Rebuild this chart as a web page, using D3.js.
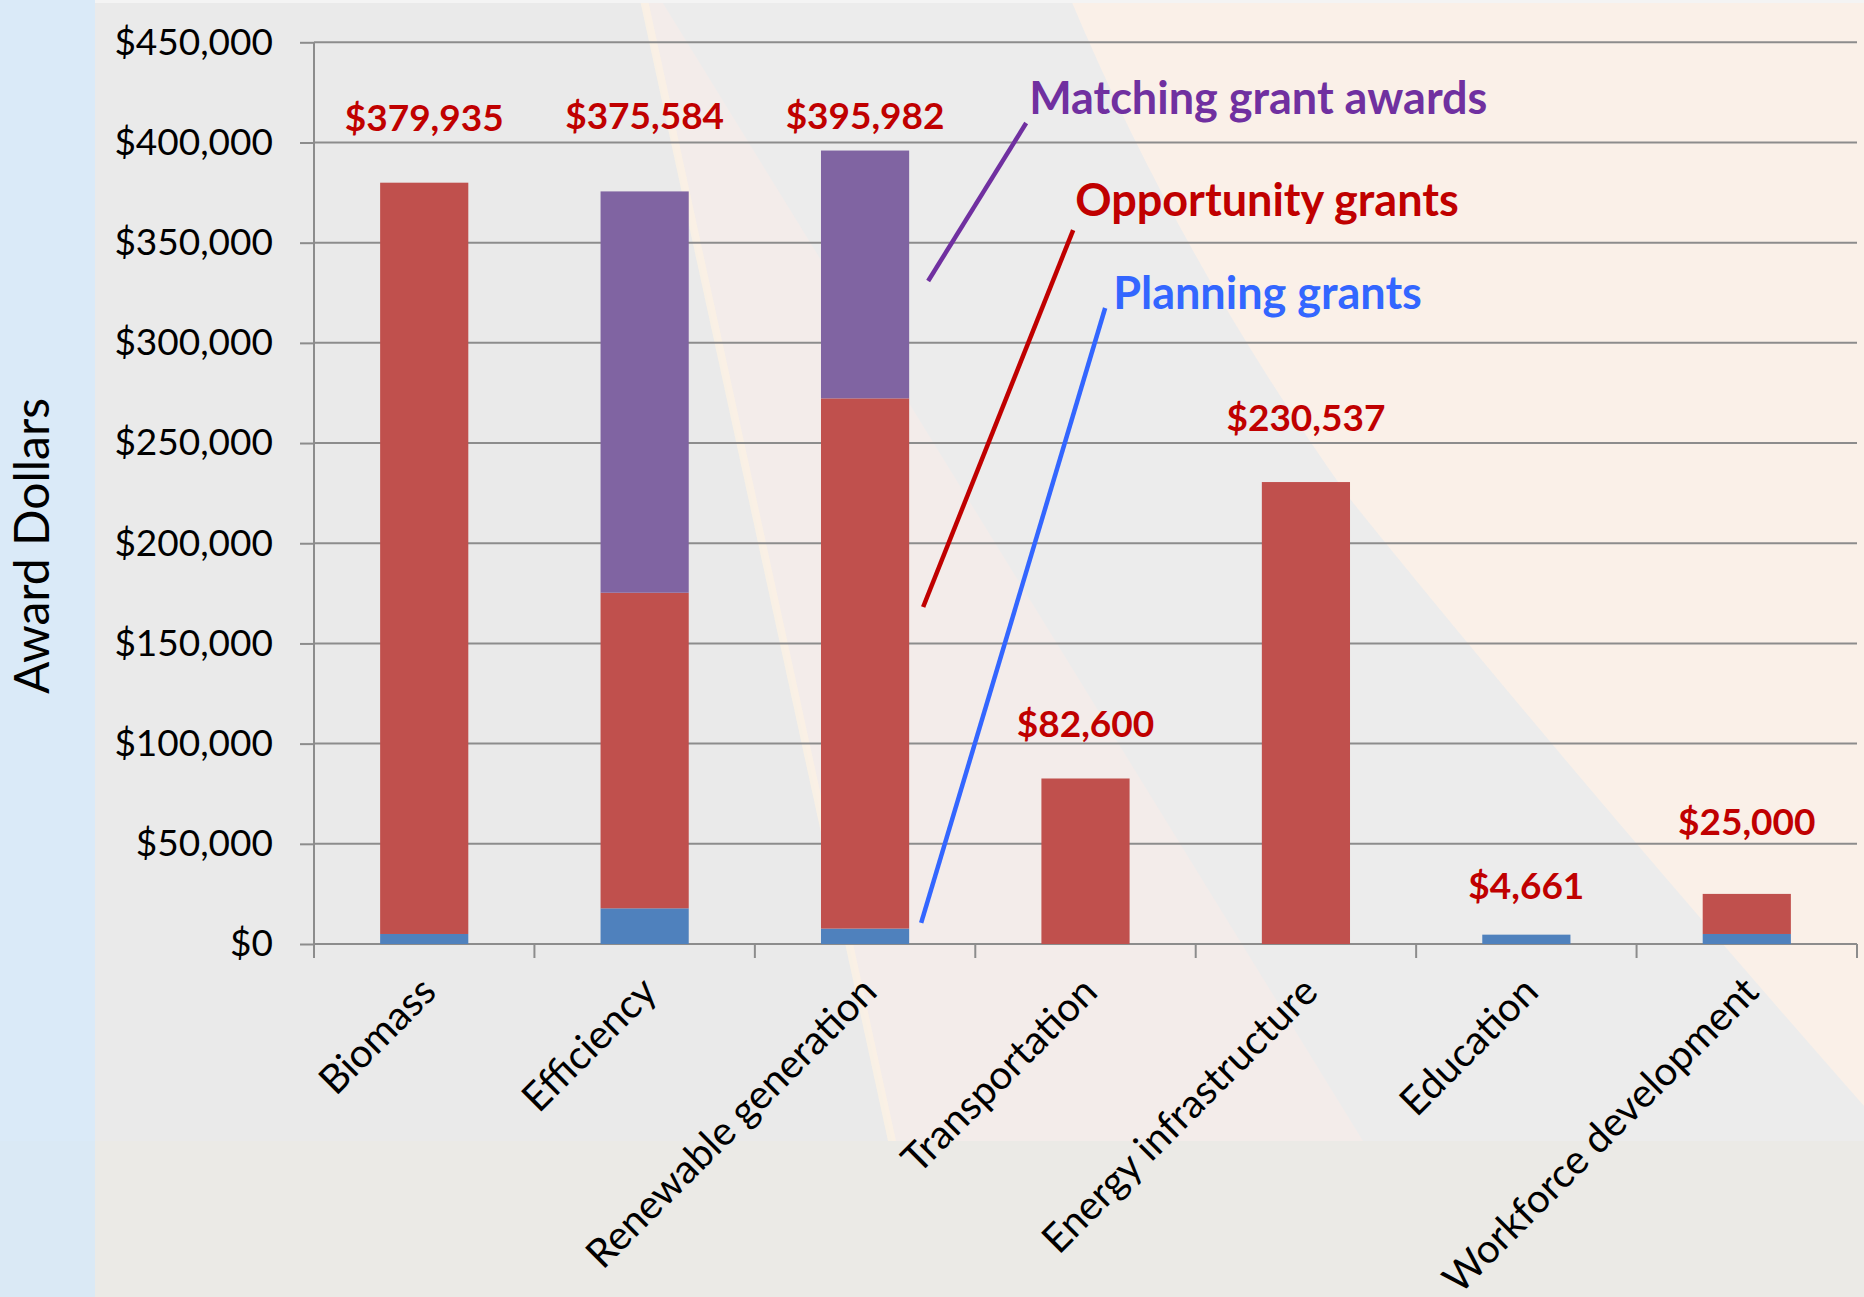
<!doctype html>
<html lang="en">
<head>
  <meta charset="utf-8">
  <title>Award dollars by category</title>
  <script src="https://d3js.org/d3.v7.min.js"></script>
  <style>
    html, body { margin: 0; padding: 0; background: #fff; }
    #chart svg { display: block; }
    text { font-family: Lato, "Open Sans", sans-serif; }
    .grid line { stroke: #8c8c8c; stroke-width: 2; }
    .axis text { font-size: 37px; fill: #000; }
    .axis line, .axis path { stroke: #8c8c8c; stroke-width: 2; }
    .cat-label { font-size: 40px; fill: #000; }
    .value-label { font-size: 37px; font-weight: bold; fill: #c00000; }
    .note { font-size: 45px; font-weight: bold; }
  </style>
</head>
<body>
  <div id="chart"></div>
  <script>
    const categories = ["Biomass", "Efficiency", "Renewable generation", "Transportation",
                        "Energy infrastructure", "Education", "Workforce development"];
    const planning    = [5000, 17800, 7700, 0, 0, 4661, 5000];
    const opportunity = [374935, 157500, 264600, 82600, 230537, 0, 20000];
    const matching    = [0, 200284, 123682, 0, 0, 0, 0];
    const totals      = [379935, 375584, 395982, 82600, 230537, 4661, 25000];
    const yTicks      = [0, 50000, 100000, 150000, 200000, 250000, 300000, 350000, 400000, 450000];
    const seriesNames = ["Planning grants", "Opportunity grants", "Matching grant awards"];
    // the total labels were dragged by hand in the original, so each sits at its own dollar level
    const labelAt     = [412200, 413200, 413200, 109800, 262500, 28900, 60900];

    const width = 1864, height = 1297;
    const plotLeft = 314, plotRight = 1857, plotTop = 42.3, plotBottom = 944;

    const svg = d3.select('#chart').append('svg')
      .attr('width', width).attr('height', height);

    // slide background
    const bg = svg.append('g');
    bg.append('rect').attr('width', width).attr('height', height).attr('fill', '#eaeaea');
    bg.append('rect').attr('x', 0).attr('y', 0).attr('width', 95).attr('height', 1141).attr('fill', '#daeaf8');
    bg.append('rect').attr('x', 0).attr('y', 1141).attr('width', 95).attr('height', 156).attr('fill', '#dae9f5');
    bg.append('polygon').attr('points', '661,0 1071,0 1350,499 1864,1106 1864,1141 892,1141 642,0')
      .attr('fill', '#ececec');
    bg.append('polygon').attr('points', '661,0 1363,1141 892,1141 642,0').attr('fill', '#f3ecea');
    bg.append('path').attr('d', 'M1071,0 L1864,0 L1864,1106 Q1560,760 1350,499 Q1180,260 1071,0 Z')
      .attr('fill', '#faf0e8');
    bg.append('polygon').attr('points', '640,0 648,0 896,1141 888,1141').attr('fill', '#fbf1e4').attr('opacity', 0.8);
    bg.append('polygon').attr('points', '95,1141 1864,1141 1864,1297 95,1297').attr('fill', '#ebeae6');
    bg.append('rect').attr('x', 95).attr('y', 0).attr('width', width - 95).attr('height', 3).attr('fill', '#f4f4f4');

    const x = d3.scaleBand().domain(categories).range([plotLeft, plotRight])
      .paddingInner(0.6).paddingOuter(0.3);
    const y = d3.scaleLinear().domain([0, 450000]).range([plotBottom, plotTop]);

    // gridlines
    svg.append('g').attr('class', 'grid')
      .selectAll('line').data(yTicks).join('line')
        .attr('x1', plotLeft).attr('x2', plotRight)
        .attr('y1', d => y(d)).attr('y2', d => y(d));

    // y axis
    const yAxis = svg.append('g').attr('class', 'axis')
      .attr('transform', `translate(${plotLeft},0)`)
      .call(d3.axisLeft(y).tickValues(yTicks).tickSize(14).tickPadding(27)
        .tickFormat(d3.format('$,')));
    yAxis.select('.domain').remove();
    yAxis.append('line').attr('x1', 0).attr('x2', 0).attr('y1', plotTop).attr('y2', plotBottom + 14);

    // category ticks at band edges
    const edges = categories.map(c => x(c) - x.step() * x.paddingInner() / 2);
    edges[0] = plotLeft;
    edges.push(plotRight);
    svg.append('g').attr('class', 'axis')
      .selectAll('line').data(edges).join('line')
        .attr('x1', d => d).attr('x2', d => d)
        .attr('y1', plotBottom).attr('y2', plotBottom + 14);

    // stacked bars
    const table = categories.map((c, i) => ({
      cat: c, planning: planning[i], opportunity: opportunity[i], matching: matching[i]
    }));
    const stack = d3.stack().keys(['planning', 'opportunity', 'matching'])(table);
    const colors = { planning: '#4f81bd', opportunity: '#c0504d', matching: '#8064a2' };
    stack.forEach(layer => {
      svg.append('g').attr('fill', colors[layer.key])
        .selectAll('rect').data(layer.filter(d => d[1] > d[0])).join('rect')
          .attr('x', d => x(d.data.cat))
          .attr('width', x.bandwidth())
          .attr('y', d => y(d[1]))
          .attr('height', d => y(d[0]) - y(d[1]));
    });

    // category labels
    svg.append('g').selectAll('text').data(categories).join('text')
      .attr('class', 'cat-label')
      .attr('text-anchor', 'end')
      .attr('transform', c => `translate(${x(c) + x.bandwidth() / 2 - 6},${plotBottom + 30}) rotate(-45)`)
      .attr('dy', '0.71em')
      .text(c => c);

    // total labels
    svg.append('g').selectAll('text').data(totals).join('text')
      .attr('class', 'value-label')
      .attr('text-anchor', 'middle')
      .attr('x', (d, i) => x(categories[i]) + x.bandwidth() / 2)
      .attr('y', (d, i) => y(labelAt[i]))
      .attr('dy', '0.35em')
      .text(d => d3.format('$,')(d));

    // series call-outs with leader lines off the Renewable generation bar
    const barEdge = x('Renewable generation') + x.bandwidth();
    const notes = [
      { name: seriesNames[2], color: '#7030a0', from: 330900, to: 409700, dx0: 19, dx1: 117, textAt: 422200, tx: 120 },
      { name: seriesNames[1], color: '#c00000', from: 168200, to: 356300, dx0: 14, dx1: 164, textAt: 371300, tx: 166 },
      { name: seriesNames[0], color: '#3366ff', from: 10500,  to: 317400, dx0: 12, dx1: 196, textAt: 324900, tx: 204 }
    ];
    const g = svg.append('g');
    g.selectAll('line').data(notes).join('line')
      .attr('x1', d => barEdge + d.dx0).attr('y1', d => y(d.from))
      .attr('x2', d => barEdge + d.dx1).attr('y2', d => y(d.to))
      .attr('stroke', d => d.color).attr('stroke-width', 4.5);
    g.selectAll('text').data(notes).join('text')
      .attr('class', 'note')
      .attr('x', d => barEdge + d.tx).attr('y', d => y(d.textAt))
      .attr('dy', '0.35em')
      .attr('fill', d => d.color)
      .text(d => d.name);

    // y axis title
    svg.append('text')
      .attr('transform', 'translate(32,546) rotate(-90)')
      .attr('text-anchor', 'middle').attr('dy', '0.35em')
      .style('font-size', '48px')
      .text('Award Dollars');
  </script>
</body>
</html>
